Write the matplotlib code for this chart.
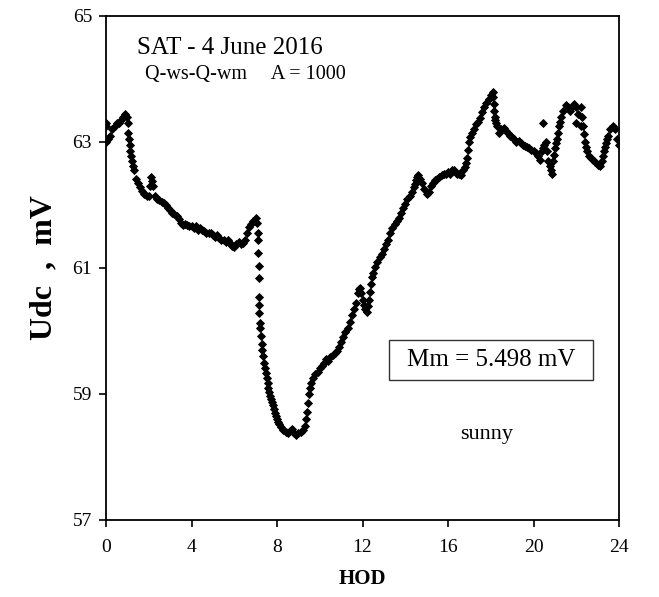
import matplotlib
matplotlib.use("Agg")
import matplotlib.pyplot as plt
from matplotlib.patches import Rectangle

# Hour of day (HOD) and Udc (mV) readings
hod = [
    0.0, 0.0, 0.02, 0.1, 0.2, 0.3, 0.4, 0.5, 0.6, 0.7, 0.8, 0.9, 1.0,
    1.03, 1.05, 1.07, 1.1, 1.13, 1.16, 1.2, 1.25, 1.3, 1.4, 1.5, 1.6,
    1.7, 1.8, 1.9, 2.0, 2.05, 2.1, 2.15, 2.2, 2.3,
    2.4, 2.5, 2.6, 2.7, 2.8, 2.9, 3.0, 3.1, 3.2, 3.3, 3.4, 3.5, 3.6,
    3.7, 3.8, 3.9, 4.0, 4.1, 4.2, 4.3, 4.4, 4.5, 4.6, 4.7, 4.8, 4.9,
    5.0, 5.1, 5.2, 5.3, 5.4, 5.5, 5.6, 5.7, 5.8, 5.9, 6.0, 6.1, 6.2,
    6.3, 6.4, 6.5, 6.6, 6.7, 6.8, 6.9, 7.0, 7.05, 7.1,
    7.12, 7.13, 7.14, 7.15, 7.16, 7.17, 7.18, 7.19,
    7.2, 7.24, 7.28, 7.32, 7.36, 7.4, 7.44, 7.48, 7.52, 7.56, 7.6,
    7.64, 7.68, 7.72, 7.76, 7.8, 7.85, 7.9, 7.95, 8.0, 8.05, 8.1,
    8.2, 8.3, 8.4, 8.5, 8.6, 8.7, 8.8, 8.9, 9.0, 9.1, 9.2, 9.3,
    9.35, 9.4, 9.45, 9.5, 9.55, 9.6, 9.7, 9.8, 9.9, 10.0, 10.1, 10.2,
    10.3, 10.4, 10.5, 10.6, 10.7, 10.8, 10.9, 11.0, 11.1, 11.2, 11.3,
    11.4, 11.5, 11.6, 11.7, 11.8, 11.85, 11.9, 11.95, 12.0, 12.05, 12.1,
    12.2, 12.25, 12.3, 12.35, 12.4, 12.45,
    12.5, 12.6, 12.7, 12.8, 12.9, 13.0, 13.1, 13.2, 13.3, 13.4, 13.5,
    13.6, 13.7, 13.8, 13.9, 14.0, 14.1, 14.2, 14.3, 14.4, 14.45, 14.5,
    14.55, 14.6, 14.7, 14.8, 14.9, 15.0, 15.1, 15.2, 15.3, 15.4, 15.5,
    15.6, 15.7, 15.8, 15.9, 16.0, 16.1, 16.2, 16.3, 16.4, 16.5, 16.6,
    16.7, 16.8, 16.85, 16.9, 16.95, 17.0, 17.05, 17.1, 17.2, 17.3, 17.4,
    17.5, 17.6, 17.7, 17.8, 17.9, 18.0, 18.1, 18.12, 18.15, 18.17, 18.2,
    18.22, 18.25, 18.3, 18.4, 18.5, 18.6, 18.7, 18.8, 18.9,
    19.0, 19.1, 19.2, 19.3, 19.4, 19.5, 19.6, 19.7, 19.8, 19.9, 20.0,
    20.1, 20.2, 20.3, 20.4, 20.45, 20.46, 20.5, 20.6, 20.65, 20.7, 20.75,
    20.8, 20.85, 20.9, 20.95, 21.0, 21.05, 21.1, 21.15, 21.2, 21.25, 21.3,
    21.4, 21.5, 21.6, 21.7, 21.8, 21.9, 22.0,
    22.0, 22.1, 22.2, 22.2, 22.25, 22.3, 22.35, 22.4, 22.45, 22.5, 22.6,
    22.7, 22.8, 22.9, 23.0, 23.1, 23.2, 23.25, 23.3, 23.35, 23.4, 23.45,
    23.5, 23.6, 23.7, 23.8, 23.9, 24.0,
]
udc = [
    63.0, 63.25, 63.3, 63.05, 63.1, 63.2, 63.25, 63.3, 63.3, 63.35, 63.4, 63.45, 63.4,
    63.3, 63.15, 63.05, 62.95, 62.85, 62.78, 62.7, 62.62, 62.55, 62.42, 62.35, 62.28,
    62.22, 62.18, 62.15, 62.15, 62.3, 62.45, 62.38, 62.3, 62.15,
    62.1, 62.08, 62.05, 62.03, 62.0, 61.95, 61.92, 61.88, 61.85, 61.82, 61.78, 61.72, 61.68,
    61.7, 61.68, 61.66, 61.67, 61.64, 61.66, 61.6, 61.63, 61.6, 61.58, 61.56, 61.55, 61.55,
    61.52, 61.5, 61.52, 61.48, 61.45, 61.45, 61.42, 61.44, 61.4, 61.35, 61.33, 61.38, 61.42,
    61.38, 61.4, 61.45, 61.55, 61.65, 61.7, 61.75, 61.8, 61.72, 61.55,
    61.45, 61.24, 61.03, 60.84, 60.54, 60.41, 60.29, 60.13,
    60.05, 59.92, 59.8, 59.7, 59.6, 59.5, 59.42, 59.33, 59.25, 59.18, 59.1,
    59.03, 58.97, 58.92, 58.87, 58.82, 58.76, 58.7, 58.65, 58.6, 58.56, 58.52,
    58.47, 58.43, 58.4, 58.38, 58.42, 58.45, 58.38, 58.35, 58.38, 58.4, 58.43, 58.5,
    58.6, 58.72, 58.85, 59.0, 59.1, 59.18, 59.25, 59.32, 59.35, 59.42, 59.45, 59.5,
    59.55, 59.52, 59.58, 59.62, 59.65, 59.68, 59.75, 59.82, 59.9, 59.98, 60.05,
    60.15, 60.25, 60.35, 60.45, 60.6, 60.66, 60.68, 60.6, 60.5, 60.42, 60.35,
    60.3, 60.4, 60.5, 60.62, 60.75, 60.85,
    60.92, 61.02, 61.1, 61.17, 61.22, 61.3, 61.38, 61.45, 61.55, 61.63, 61.7,
    61.75, 61.8, 61.88, 61.95, 62.02, 62.1, 62.15, 62.2, 62.28, 62.34, 62.4,
    62.45, 62.48, 62.42, 62.35, 62.25, 62.18, 62.2, 62.3, 62.35, 62.4, 62.42,
    62.45, 62.48, 62.5, 62.5, 62.52, 62.5, 62.55, 62.55, 62.5, 62.5, 62.48,
    62.55, 62.6, 62.67, 62.75, 62.88, 63.0, 63.08, 63.15, 63.2, 63.28, 63.32,
    63.38, 63.48, 63.55, 63.62, 63.68, 63.75, 63.8, 63.72, 63.6, 63.5, 63.4,
    63.35, 63.3, 63.25, 63.15, 63.2, 63.22, 63.18, 63.15, 63.1,
    63.08, 63.05, 63.0, 63.02, 62.98, 62.95, 62.93, 62.92, 62.9, 62.88, 62.85,
    62.82, 62.78, 62.72, 62.85, 62.9, 63.3, 62.95, 63.0, 62.85, 62.7, 62.62,
    62.55, 62.5, 62.7, 62.8, 62.9, 62.98, 63.05, 63.15, 63.25, 63.32, 63.4,
    63.5, 63.58, 63.55, 63.5, 63.55, 63.6, 63.55,
    63.3, 63.45, 63.55, 63.25, 63.4, 63.25, 63.12, 63.0, 62.92, 62.85, 62.78,
    62.75, 62.72, 62.68, 62.63, 62.62, 62.7, 62.78, 62.85, 62.92, 62.98, 63.04,
    63.1, 63.2, 63.25, 63.2, 63.05, 62.95,
]

x_ticks = [0, 4, 8, 12, 16, 20, 24]
y_ticks = [57, 59, 61, 63, 65]

plt.rcParams['font.family'] = ['Liberation Serif', 'DejaVu Serif']

fig = plt.figure(figsize=(6.59, 5.97), dpi=100)
ax = fig.add_axes([106 / 659, 1 - 520 / 597, 513 / 659, 504 / 597])

ax.plot(hod, udc, linestyle='none', marker='D', markersize=4.2,
        color='black', markeredgecolor='black', markeredgewidth=0.6)

ax.set_xlim(0, 24)
ax.set_ylim(57, 65)
ax.set_xticks(x_ticks)
ax.set_yticks(y_ticks)
ax.tick_params(direction='out', length=5, width=1.2, labelsize=14, pad=5)
ax.tick_params(axis='x', pad=9)
for s in ax.spines.values():
    s.set_linewidth(1.3)

ax.set_xlabel('HOD', fontsize=15, fontweight='bold', labelpad=9)
ax.set_ylabel('Udc  ,  mV', fontsize=23, fontweight='bold', labelpad=10)

ax.text(0.06, 0.937, 'SAT - 4 June 2016', transform=ax.transAxes,
        fontsize=18, ha='left', va='center')
ax.text(0.076, 0.883, 'Q-ws-Q-wm     A = 1000', transform=ax.transAxes,
        fontsize=14.5, ha='left', va='center')

ax.add_patch(Rectangle((0.5517, 0.2778), 0.3976, 0.0792, transform=ax.transAxes,
                       fill=False, edgecolor='#333333', linewidth=1.0))
ax.text(0.7505, 0.3175, 'Mm = 5.498 mV', transform=ax.transAxes,
        fontsize=18, ha='center', va='center')
ax.text(0.7417, 0.1687, 'sunny', transform=ax.transAxes,
        fontsize=16, ha='center', va='center')

fig.savefig('out.png', dpi=100)
